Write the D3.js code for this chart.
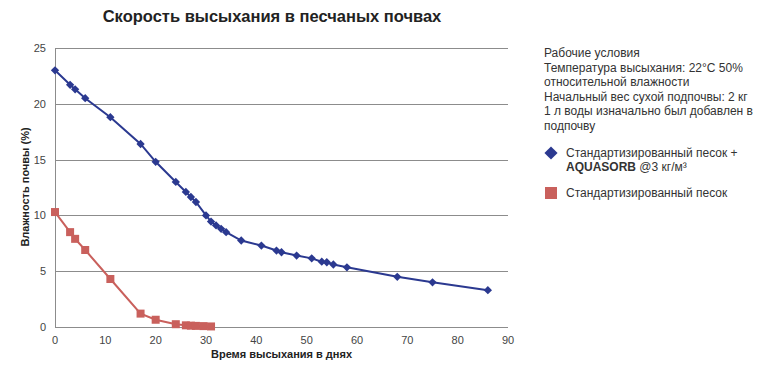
<!DOCTYPE html>
<html>
<head>
<meta charset="utf-8">
<script src="https://cdn.jsdelivr.net/npm/d3@7"></script>
<style>
    body { margin: 0; background: #fff; }
    svg text { font-family: "Liberation Sans", Arial, sans-serif; }
</style>
</head>
<body>
<div id="chart"></div>
<script>
// Days of drying and soil moisture (%)
const aquaDays = [0, 3, 4, 6, 11, 17, 20, 24, 26, 27, 28, 30, 31, 32, 33, 34, 37, 41, 44, 45, 48, 51, 53, 54, 55.3, 58, 68, 75, 86];
const aquaValues = [23.0, 21.7, 21.3, 20.5, 18.8, 16.4, 14.8, 13.0, 12.1, 11.65, 11.2, 10.0, 9.45, 9.1, 8.8, 8.5, 7.75, 7.3, 6.85, 6.7, 6.4, 6.15, 5.85, 5.8, 5.6, 5.35, 4.5, 4.0, 3.3];

const sandDays = [0, 3, 4, 6, 11, 17, 20, 24, 26, 27, 28, 29.5, 31];
const sandValues = [10.3, 8.5, 7.9, 6.9, 4.3, 1.2, 0.65, 0.25, 0.15, 0.12, 0.1, 0.08, 0.05];

const xTicks = [0, 10, 20, 30, 40, 50, 60, 70, 80, 90];
const yTicks = [0, 5, 10, 15, 20, 25];

const noteLines = [
    "Рабочие условия",
    "Температура высыхания: 22°C 50%",
    "относительной влажности",
    "Начальный вес сухой подпочвы: 2 кг",
    "1 л воды изначально был добавлен в",
    "подпочву"
];

const blue = "#2b3990";
const red = "#c9605c";

const width = 765, height = 367;
const margin = {top: 48, right: 257, bottom: 40, left: 55};
const innerW = width - margin.left - margin.right;
const innerH = height - margin.top - margin.bottom;

const svg = d3.select("#chart").append("svg")
    .attr("width", width)
    .attr("height", height);

// Title
svg.append("text")
    .attr("x", 272)
    .attr("y", 22)
    .attr("text-anchor", "middle")
    .style("font-size", "16.5px")
    .style("font-weight", "bold")
    .style("fill", "#222")
    .text("Скорость высыхания в песчаных почвах");

const g = svg.append("g")
    .attr("transform", `translate(${margin.left},${margin.top})`);

const x = d3.scaleLinear().domain([0, 90]).range([0, innerW]);
const y = d3.scaleLinear().domain([0, 25]).range([innerH, 0]);

// Gridlines
g.selectAll(".grid")
    .data(yTicks)
    .enter().append("line")
    .attr("x1", 0)
    .attr("x2", innerW)
    .attr("y1", d => Math.round(y(d)) + 0.5)
    .attr("y2", d => Math.round(y(d)) + 0.5)
    .attr("stroke", "#8c8c8c")
    .attr("stroke-width", 1);

g.append("line")
    .attr("x1", 0.5).attr("x2", 0.5)
    .attr("y1", 0).attr("y2", innerH)
    .attr("stroke", "#8c8c8c");

// Tick labels
g.selectAll(".ylab")
    .data(yTicks)
    .enter().append("text")
    .attr("x", -9)
    .attr("y", d => y(d) + 4)
    .attr("text-anchor", "end")
    .style("font-size", "11px")
    .style("fill", "#444")
    .text(d => d);

g.selectAll(".xlab")
    .data(xTicks)
    .enter().append("text")
    .attr("x", d => x(d))
    .attr("y", innerH + 17)
    .attr("text-anchor", "middle")
    .style("font-size", "11px")
    .style("fill", "#444")
    .text(d => d);

// Axis titles
svg.append("text")
    .attr("x", margin.left + innerW / 2)
    .attr("y", 358)
    .attr("text-anchor", "middle")
    .style("font-size", "11px")
    .style("font-weight", "bold")
    .style("fill", "#222")
    .text("Время высыхания в днях");

svg.append("text")
    .attr("transform", "translate(29,187) rotate(-90)")
    .attr("text-anchor", "middle")
    .style("font-size", "11px")
    .style("font-weight", "bold")
    .style("fill", "#222")
    .text("Влажность почвы (%)");

// Series
const line = d3.line()
    .x(d => x(d[0]))
    .y(d => y(d[1]));

const aqua = d3.zip(aquaDays, aquaValues);
const sand = d3.zip(sandDays, sandValues);

g.append("path")
    .datum(sand)
    .attr("d", line)
    .attr("fill", "none")
    .attr("stroke", red)
    .attr("stroke-width", 2);

g.selectAll(".sq")
    .data(sand)
    .enter().append("rect")
    .attr("x", d => x(d[0]) - 4)
    .attr("y", d => y(d[1]) - 4)
    .attr("width", 8)
    .attr("height", 8)
    .attr("fill", red);

g.append("path")
    .datum(aqua)
    .attr("d", line)
    .attr("fill", "none")
    .attr("stroke", blue)
    .attr("stroke-width", 2);

const diamond = d3.symbol().type(d3.symbolDiamond2).size(44);
g.selectAll(".dm")
    .data(aqua)
    .enter().append("path")
    .attr("d", diamond)
    .attr("transform", d => `translate(${x(d[0])},${y(d[1])})`)
    .attr("fill", blue);

// Notes and legend
const note = svg.append("g");
note.selectAll("text")
    .data(noteLines)
    .enter().append("text")
    .attr("x", 544)
    .attr("y", (d, i) => 57 + i * 14.6)
    .style("font-size", "12px")
    .style("fill", "#333")
    .text(d => d);

const leg = svg.append("g");
leg.append("path")
    .attr("d", d3.symbol().type(d3.symbolDiamond2).size(110))
    .attr("transform", "translate(551,153)")
    .attr("fill", blue);
leg.append("text")
    .attr("x", 566).attr("y", 157)
    .style("font-size", "12px").style("fill", "#333")
    .text("Стандартизированный песок +");
const t2 = leg.append("text")
    .attr("x", 566).attr("y", 171)
    .style("font-size", "12px").style("fill", "#333");
t2.append("tspan").style("font-weight", "bold").text("AQUASORB");
t2.append("tspan").text(" @3 кг/м³");

leg.append("rect")
    .attr("x", 545).attr("y", 187)
    .attr("width", 12).attr("height", 12)
    .attr("fill", red);
leg.append("text")
    .attr("x", 566).attr("y", 197)
    .style("font-size", "12px").style("fill", "#333")
    .text("Стандартизированный песок");
</script>
</body>
</html>
